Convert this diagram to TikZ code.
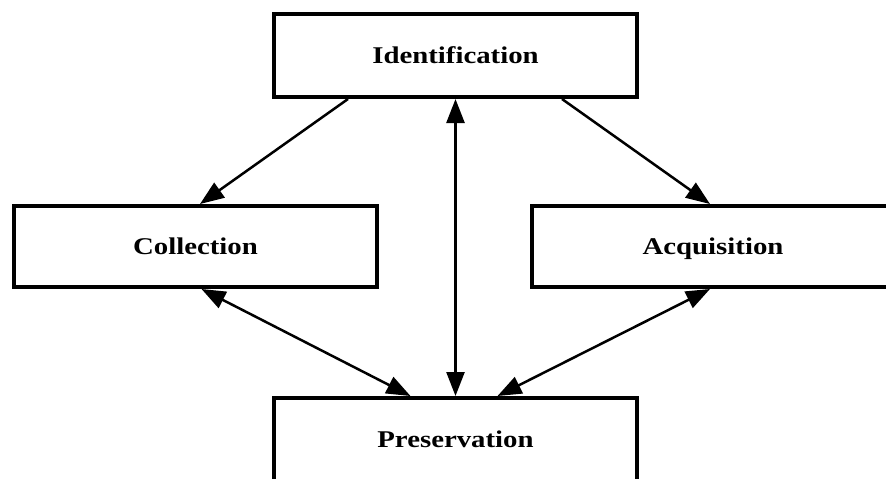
\documentclass[tikz,border=0pt]{standalone}
\usepackage{fontspec}
\newfontfamily\boxfont{Liberation Serif}[FakeStretch=1.2]
\usetikzlibrary{arrows.meta,calc}
\begin{document}
\begin{tikzpicture}[x=1pt,y=-1pt,
  box/.style={draw, line width=4pt, minimum width=363pt, minimum height=83pt, inner sep=0pt,
    text height=16pt, text depth=1pt,
    font=\boxfont\bfseries\fontsize{24}{28}\selectfont},
  conn/.style={line width=2.5pt, -{Triangle[length=24pt,width=18pt]}},
  both/.style={line width=2.5pt, {Triangle[length=24pt,width=18pt]}-{Triangle[length=24pt,width=18pt]}}]
\useasboundingbox (0,0) rectangle (886,479);
\clip (0,0) rectangle (886,479);
\fill[white] (0,0) rectangle (886,479);
\node[box] (id) at (455.5,55.5) {Identification};
\node[box, minimum height=81pt] (col) at (195.5,246.5) {Collection};
\node[box, minimum height=81pt] (acq) at (713,246.5) {Acquisition};
\node[box] (pres) at (455.5,439.5) {Preservation};
\draw[conn] ([xshift=-107.5pt]id.south) -- ([xshift=4.5pt]col.north);
\draw[conn] ([xshift=106.5pt]id.south) -- ([xshift=-3pt]acq.north);
\draw[both] (id.south) -- (pres.north);
\draw[both] ([xshift=6pt]col.south) -- ([xshift=-45pt]pres.north);
\draw[both] ([xshift=-3pt]acq.south) -- ([xshift=42pt]pres.north);
\end{tikzpicture}
\end{document}
